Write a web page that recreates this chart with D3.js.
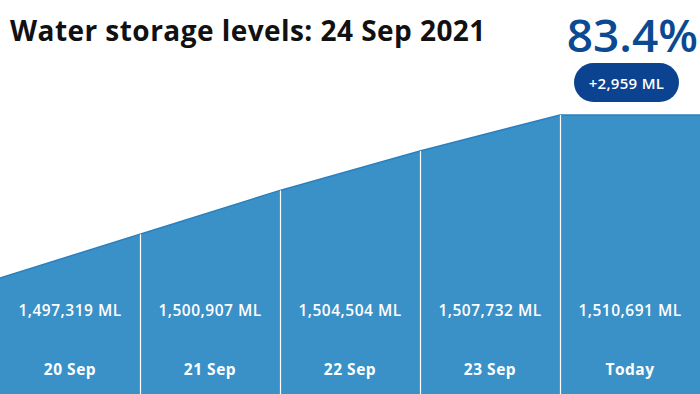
<!DOCTYPE html>
<html>
<head>
<meta charset="utf-8">
<script src="https://cdn.jsdelivr.net/npm/d3@7"></script>
<style>
  body { margin: 0; background: #fff; }
  svg { display: block; font-family: "Open Sans", "Noto Sans", sans-serif; }
</style>
</head>
<body>
<svg id="chart" width="700" height="394"></svg>
<script>
// data
const days = ["20 Sep", "21 Sep", "22 Sep", "23 Sep", "Today"];
const storage = [1497319, 1500907, 1504504, 1507732, 1510691];
const percentFull = "83.4%";
const dailyChange = "+2,959 ML";
const title = "Water storage levels: 24 Sep 2021";

const width = 700, height = 394;
const svg = d3.select("#chart");

const x = d3.scaleBand().domain(days).range([0, width]).padding(0);
const y = d3.scaleLinear().domain([1487800, 1510691]).range([height, 115]);

const fmt = d3.format(",");

// area: runs from the left edge of each column to the next column's left edge
const pts = days.map((d, i) => ({ x: x(d), v: storage[i] }));
pts.push({ x: width, v: storage[storage.length - 1] });

const area = d3.area()
  .x(d => d.x)
  .y0(height)
  .y1(d => y(d.v));

svg.append("path")
  .datum(pts)
  .attr("d", area)
  .attr("fill", "#3a91c8");

svg.append("path")
  .datum(pts)
  .attr("d", d3.line().x(d => d.x).y(d => y(d.v)))
  .attr("fill", "none")
  .attr("stroke", "#2a80bf")
  .attr("stroke-width", 1.5);

// column dividers
svg.selectAll("line.div")
  .data(days.slice(1))
  .join("line")
  .attr("class", "div")
  .attr("x1", d => x(d) + 0.5)
  .attr("x2", d => x(d) + 0.5)
  .attr("y1", (d, i) => y(storage[i + 1]))
  .attr("y2", height)
  .attr("stroke", "#fff")
  .attr("stroke-width", 1.2);

// value labels
svg.selectAll("text.val")
  .data(days)
  .join("text")
  .attr("class", "val")
  .attr("x", d => x(d) + x.bandwidth() / 2)
  .attr("y", 316)
  .attr("text-anchor", "middle")
  .attr("fill", "#fff")
  .attr("font-size", 15.5)
  .attr("font-weight", 600)
  .attr("letter-spacing", 0.5)
  .text((d, i) => fmt(storage[i]) + " ML");

// date labels
svg.selectAll("text.day")
  .data(days)
  .join("text")
  .attr("class", "day")
  .attr("x", d => x(d) + x.bandwidth() / 2)
  .attr("y", 375)
  .attr("text-anchor", "middle")
  .attr("fill", "#fff")
  .attr("font-size", 15.5)
  .attr("font-weight", 700)
  .attr("letter-spacing", 0.5)
  .text(d => d);

// title
svg.append("text")
  .attr("x", 10)
  .attr("y", 41)
  .attr("fill", "#111")
  .attr("font-size", 28)
  .attr("font-weight", 700)
  .attr("letter-spacing", 0.45)
  .text(title);

// big percentage
svg.append("text")
  .attr("x", 698)
  .attr("y", 52)
  .attr("text-anchor", "end")
  .attr("fill", "#0b4a93")
  .attr("font-size", 46)
  .attr("font-weight", 600)
  .text(percentFull);

// change pill
svg.append("rect")
  .attr("x", 574)
  .attr("y", 63)
  .attr("width", 105)
  .attr("height", 39)
  .attr("rx", 19.5)
  .attr("fill", "#0b4391");

svg.append("text")
  .attr("x", 626.5)
  .attr("y", 88.5)
  .attr("text-anchor", "middle")
  .attr("fill", "#fff")
  .attr("font-size", 15)
  .attr("font-weight", 600)
  .attr("letter-spacing", 0.3)
  .text(dailyChange);
</script>
</body>
</html>
